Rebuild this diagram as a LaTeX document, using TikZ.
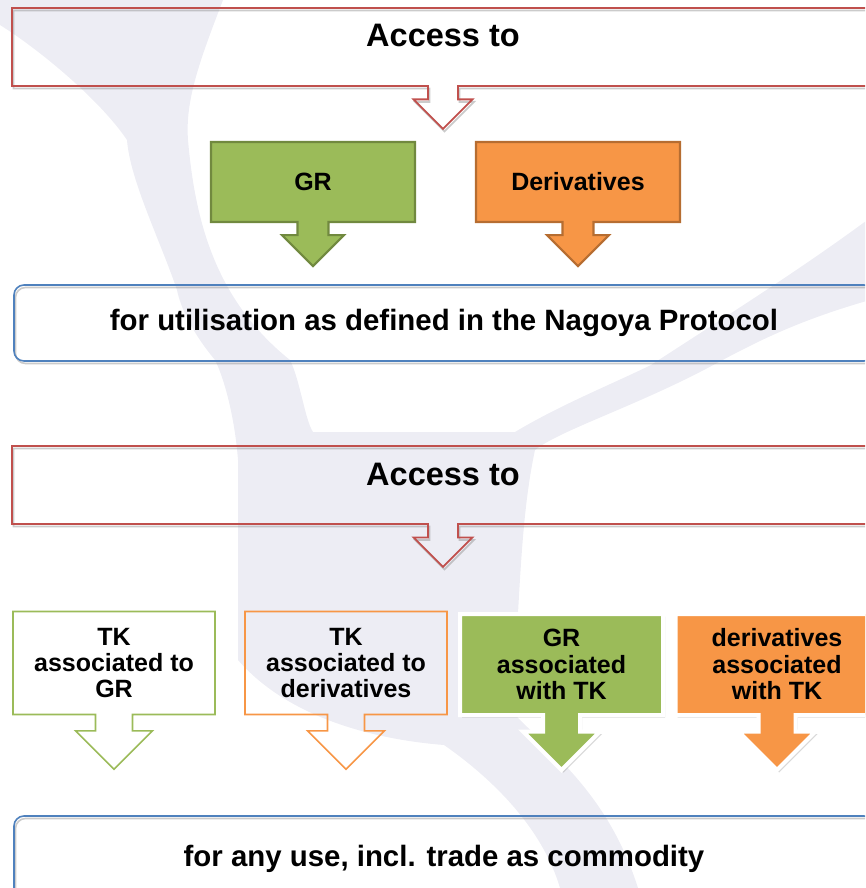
\documentclass[tikz,border=0pt]{standalone}
\usepackage{fontspec}
\setmainfont{Liberation Sans}
\usepackage[x11names]{xcolor}
\usetikzlibrary{shapes.arrows,shadows}

\definecolor{kastenrot}{RGB}{192,80,77}
\definecolor{kastenblau}{RGB}{79,129,189}
\definecolor{gruenfill}{RGB}{155,187,89}
\definecolor{gruenrand}{RGB}{113,137,63}
\definecolor{orangefill}{RGB}{247,150,70}
\definecolor{orangerand}{RGB}{182,109,49}
\definecolor{wasserzeichen}{RGB}{237,237,244}

\begin{document}
\begin{tikzpicture}[%
		x=1pt, y=-1pt,
		font=\bfseries,
		pfeilkasten/.style={arrow box, arrow box arrows={south:#1}, arrow box tip angle=90,
			inner sep=0pt, align=center},
		schatten/.style={preaction={draw=black!45, opacity=0.45,
			transform canvas={shift={(1.5pt,-2.5pt)}}}},
		zugang/.style={pfeilkasten=42pt, draw=kastenrot, line width=1.8pt, schatten,
			minimum width=862pt, text height=39pt, text depth=39pt,
			arrow box shaft width=30pt, arrow box head extend=14.5pt,
			font=\bfseries\fontsize{32.5}{34}\selectfont},
		klein/.style={pfeilkasten=43pt, line width=2.2pt,
			minimum width=204pt, minimum height=80pt,
			arrow box shaft width=31pt, arrow box head extend=15.5pt,
			font=\bfseries\fontsize{25}{27}\selectfont},
		leer/.style={pfeilkasten=54pt, draw=#1, line width=1.6pt,
			minimum width=202pt, minimum height=103pt,
			arrow box shaft width=37pt, arrow box head extend=20pt,
			font=\bfseries\fontsize{25}{26}\selectfont},
		voll/.style={pfeilkasten=53pt, fill=#1, draw=white, line width=4pt,
			drop shadow={opacity=0.3, shadow xshift=2pt, shadow yshift=-2.5pt},
			minimum width=203pt, minimum height=101pt,
			arrow box shaft width=37pt, arrow box head extend=20pt,
			font=\bfseries\fontsize{25}{26.5}\selectfont},
		zweck/.style={draw=kastenblau, line width=1.6pt, rounded corners=10pt, schatten,
			minimum width=860pt, inner sep=0pt,
			font=\bfseries\fontsize{29.4}{31}\selectfont}
		]

		\useasboundingbox (0,0) rectangle (865,888);
		\clip (0,0) rectangle (865,888);

		%% Wasserzeichen im Hintergrund
		\fill[wasserzeichen] (0,0) -- (223,0)
			.. controls (200,60) and (185,100) .. (188,140)
			.. controls (195,220) and (215,300) .. (290,360)
			.. controls (300,380) and (305,420) .. (313,432)
			-- (515,432)
			.. controls (560,405) and (610,385) .. (651,365)
			.. controls (720,320) and (800,270) .. (870,218)
			-- (870,300)
			.. controls (800,320) and (760,340) .. (717,363)
			.. controls (640,405) and (560,430) .. (535,450)
			.. controls (520,520) and (520,600) .. (512,712)
			.. controls (560,760) and (610,800) .. (638,888)
			-- (560,888)
			.. controls (540,820) and (480,770) .. (444,745)
			.. controls (380,740) and (290,720) .. (238,660)
			-- (238,460)
			.. controls (235,420) and (225,380) .. (215,360)
			.. controls (190,330) and (180,305) .. (177,290)
			.. controls (160,240) and (130,180) .. (127,140)
			.. controls (100,100) and (40,50) .. (0,25) -- cycle;

		%% Oberer Teil
		\node[zugang] (zugangA) at (443,47) {Access to};
		\node[klein, fill=gruenfill, draw=gruenrand] (gr) at (313,182) {GR};
		\node[klein, fill=orangefill, draw=orangerand] (deriv) at (578,182) {Derivatives};
		\node[zweck, minimum height=76pt] (nagoya) at (444,323)
			{for utilisation as defined in the Nagoya Protocol};

		%% Unterer Teil
		\node[zugang] (zugangB) at (443,485) {Access to};
		\node[leer=gruenfill] (tkgr) at (114,663) {TK\\associated to\\GR};
		\node[leer=orangefill] (tkderiv) at (346,663) {TK\\associated to\\derivatives};
		\node[voll=gruenfill] (grtk) at (561.5,664.5) {GR\\associated\\with TK};
		\node[voll=orangefill] (derivtk) at (777,664.5) {derivatives\\associated\\with TK};
		\node[zweck, minimum height=86pt] (handel) at (444,859)
			{for any use, incl. trade as commodity};

	\end{tikzpicture}
\end{document}
